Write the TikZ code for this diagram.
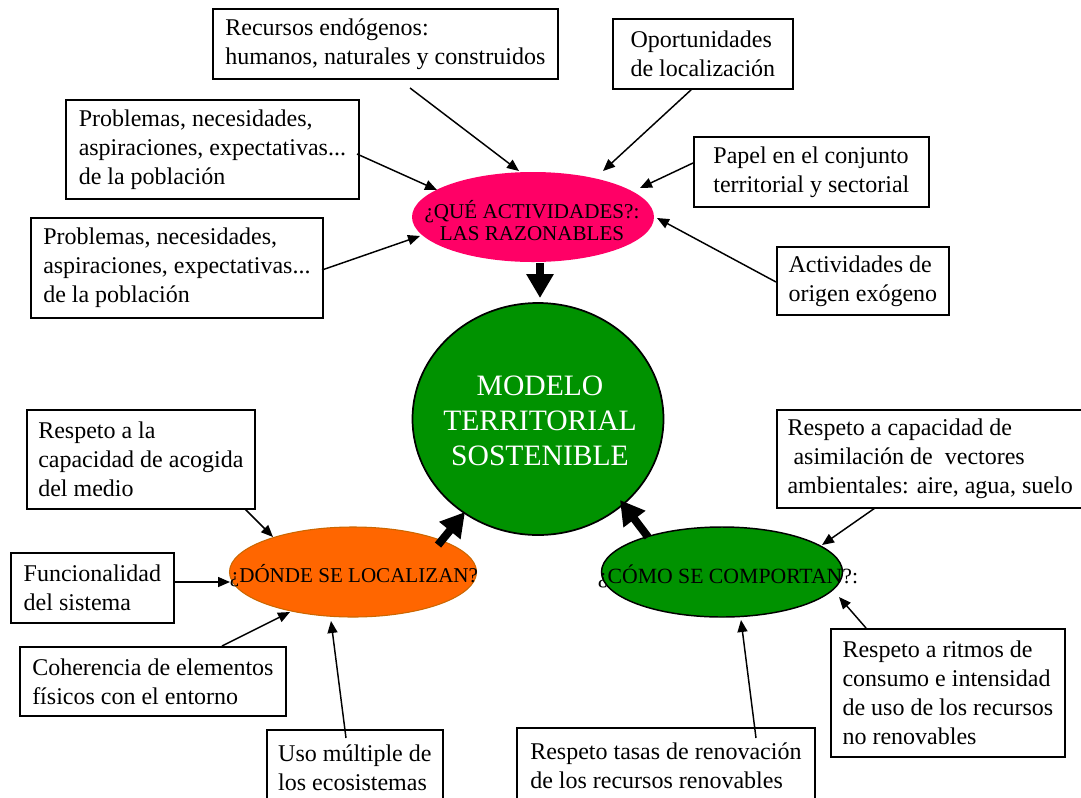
\documentclass[tikz,border=0pt]{standalone}
\usepackage{fontspec}
\setmainfont{Liberation Serif}
\usetikzlibrary{arrows.meta,shapes.geometric}
\definecolor{pinkq}{RGB}{255,0,102}
\definecolor{orangeq}{RGB}{255,102,0}
\definecolor{orangeb}{RGB}{204,102,0}
\definecolor{greenq}{RGB}{0,146,0}
\begin{document}
\begin{tikzpicture}[x=0.75pt,y=-0.75pt,
  box/.style={draw, line width=1.3pt, anchor=north west, align=left, inner xsep=8pt, inner ysep=3pt, font=\fontsize{18}{21.8}\selectfont},
  thinarr/.style={line width=1.1pt, -{Triangle[length=9pt,width=7.5pt]}},
  fatarr/.style={line width=6pt, -{Triangle[length=18pt,width=19.5pt]}},
  oval/.style={ellipse, inner sep=0pt}
]
\useasboundingbox (0,0) rectangle (1081,797);

% boxes
\node[box, minimum width=258.75pt, minimum height=52.5pt] (rec) at (212,8) {Recursos endógenos:\\humanos, naturales y construidos};
\node[box, minimum width=135pt, minimum height=52.5pt] (opo) at (612,18) {Oportunidades\\de localización};
\node[box, minimum width=219.75pt, minimum height=74.25pt] (prob1) at (65,99) {Problemas, necesidades,\\aspiraciones, expectativas...\\de la población};
\node[box, minimum width=176.25pt, minimum height=52.5pt] (pap) at (693,136) {Papel en el conjunto\\territorial y sectorial};
\node[box, minimum width=219pt, minimum height=75pt] (prob2) at (30,217) {Problemas, necesidades,\\aspiraciones, expectativas...\\de la población};
\node[box, minimum width=129pt, minimum height=51pt] (act) at (776,246) {Actividades de\\origen exógeno};
\node[box, minimum width=171pt, minimum height=74.25pt] (resp1) at (26,409) {Respeto a la\\capacidad de acogida\\del medio};
\node[box, minimum width=228.75pt, minimum height=73.5pt] (asim) at (776,409) {Respeto a capacidad de\\\hspace*{0.25em}asimilación de\hspace*{0.5em}vectores\\ambientales: aire, agua, suelo};
\node[box, minimum width=122.25pt, minimum height=52.5pt] (func) at (10,552) {Funcionalidad\\del sistema};
\node[box, minimum width=199.5pt, minimum height=51.75pt] (coh) at (19,646) {Coherencia de elementos\\físicos con el entorno};
\node[box, minimum width=175.5pt, minimum height=96pt] (ritm) at (830,628) {Respeto a ritmos de\\consumo e intensidad\\de uso de los recursos\\no renovables};
\node[box, minimum width=132pt, minimum height=57pt] (uso) at (266,729) {Uso múltiple de\\los ecosistemas};
\node[box, minimum width=223.5pt, minimum height=57pt] (tas) at (516,727) {Respeto tasas de renovación\\de los recursos renovables};

% ellipses
\node[oval, fill=pinkq, minimum width=181.5pt, minimum height=67.5pt] (que) at (533,217) {};
\node[font=\fontsize{15.8}{16.5}\selectfont, align=center] (queT) at (532,221) {¿QUÉ ACTIVIDADES?:\\LAS RAZONABLES};
\node[oval, fill=greenq, draw=black, line width=1.3pt, minimum width=188.25pt, minimum height=174pt] (mod) at (538,419) {};
\node[text=white, font=\fontsize{22.2}{26.25}\selectfont, align=center] (modT) at (540,421) {MODELO\\TERRITORIAL\\SOSTENIBLE};
\node[oval, fill=orangeq, draw=orangeb, line width=0.8pt, minimum width=185.25pt, minimum height=67.5pt] (don) at (353,572) {};
\node[font=\fontsize{15.8}{18}\selectfont] (donT) at (354,576) {¿DÓNDE SE LOCALIZAN?};
\node[oval, fill=greenq, draw=black, line width=1.1pt, minimum width=180.75pt, minimum height=67.5pt] (com) at (722,572) {};
\node[font=\fontsize{16.3}{18}\selectfont] (comT) at (728,576) {¿CÓMO SE COMPORTAN?:};

% connector end points
\coordinate (rec-o) at (410,88);   \coordinate (que-a) at (519,171);
\coordinate (opo-o) at (692,89);   \coordinate (que-b) at (603,171);
\coordinate (prob1-o) at (357,154);\coordinate (que-c) at (437,190);
\coordinate (pap-o) at (693,163);  \coordinate (que-d) at (640,188);
\coordinate (prob2-o) at (322,270);\coordinate (que-e) at (420,236);
\coordinate (act-o) at (776,282);  \coordinate (que-f) at (657,218);
\coordinate (que-o) at (540,263);  \coordinate (mod-a) at (540,298);
\coordinate (don-o) at (438,545);  \coordinate (mod-b) at (465,512);
\coordinate (com-o) at (648,537);  \coordinate (mod-c) at (620,500);
\coordinate (resp1-o) at (245,509);\coordinate (don-a) at (273,537);
\coordinate (func-o) at (173,582); \coordinate (don-b) at (230,582);
\coordinate (coh-o) at (222,646);  \coordinate (don-c) at (290,612);
\coordinate (uso-o) at (346,738);  \coordinate (don-d) at (331,621);
\coordinate (tas-o) at (756,738);  \coordinate (com-a) at (741,620);
\coordinate (ritm-o) at (866,628); \coordinate (com-b) at (839,597);
\coordinate (asim-o) at (875,508); \coordinate (com-c) at (822,545);

% connectors
\draw[thinarr] (rec-o) -- (que-a);
\draw[thinarr] (opo-o) -- (que-b);
\draw[thinarr] (prob1-o) -- (que-c);
\draw[thinarr] (pap-o) -- (que-d);
\draw[thinarr] (prob2-o) -- (que-e);
\draw[thinarr] (act-o) -- (que-f);
\draw[fatarr] (que-o) -- (mod-a);
\draw[fatarr] (don-o) -- (mod-b);
\draw[fatarr] (com-o) -- (mod-c);
\draw[thinarr] (resp1-o) -- (don-a);
\draw[thinarr] (func-o) -- (don-b);
\draw[thinarr] (coh-o) -- (don-c);
\draw[thinarr] (uso-o) -- (don-d);
\draw[thinarr] (tas-o) -- (com-a);
\draw[thinarr] (ritm-o) -- (com-b);
\draw[thinarr] (asim-o) -- (com-c);
\end{tikzpicture}
\end{document}
